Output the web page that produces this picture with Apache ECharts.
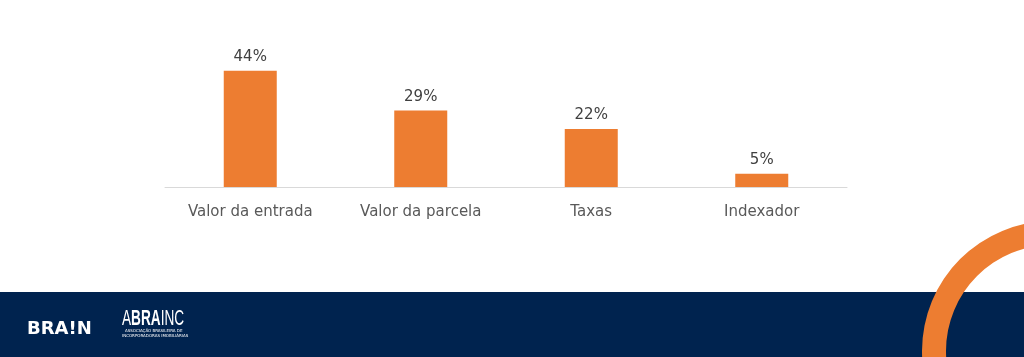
<!DOCTYPE html>
<html><head><meta charset="utf-8">
<script src="https://cdn.jsdelivr.net/npm/echarts@6/dist/echarts.min.js"></script>
<style>html,body{margin:0;padding:0;background:#fff}#c{width:1024px;height:357px}</style>
</head><body><div id="c"></div>
<script>
var categories = ['Valor da entrada', 'Valor da parcela', 'Taxas', 'Indexador'];
var values = [44, 29, 22, 5];

var chart = echarts.init(document.getElementById('c'));
chart.setOption({
  animation: false,
  backgroundColor: '#ffffff',
  grid: { left: 165, right: 177, top: 55, bottom: 170 },
  xAxis: {
    type: 'category',
    data: categories,
    axisLine: { lineStyle: { color: '#D9D9D9', width: 1 } },
    axisTick: { show: false },
    axisLabel: { color: '#595959', fontSize: 15, fontFamily: 'DejaVu Sans', margin: 18 }
  },
  yAxis: { type: 'value', min: 0, max: 50, show: false, splitLine: { show: false } },
  series: [{
    type: 'bar',
    data: values,
    barWidth: 53,
    itemStyle: { color: '#ED7D31' },
    label: {
      show: true, position: 'top', distance: 6,
      formatter: '{c}%', color: '#404040', fontSize: 15, fontFamily: 'DejaVu Sans'
    }
  }],
  graphic: [
    { type: 'rect', shape: { x: 0, y: 292, width: 1024, height: 65 }, style: { fill: '#00234F' }, z: 1 },
    { type: 'ring', shape: { cx: 1052, cy: 351, r: 130, r0: 106 }, style: { fill: '#ED7D31' }, z: 2 },
    { type: 'text', x: 27, y: 329, scaleX: 1.0, style: { text: 'BRA!N', fill: '#ffffff', font: 'bold 18px "DejaVu Sans"', verticalAlign: 'middle' }, z: 3 },
    { type: 'text', x: 122, y: 319, scaleX: 0.62, style: {
        text: '{a|A}{b|BRA}{a|INC}',
        verticalAlign: 'middle',
        rich: {
          a: { fill: '#ffffff', fontSize: 22, fontFamily: 'Liberation Sans', fontWeight: 'normal' },
          b: { fill: '#ffffff', fontSize: 22, fontFamily: 'Liberation Sans', fontWeight: 'bold' }
        }
      }, z: 3 },
    { type: 'text', x: 125, y: 331, style: { text: 'ASSOCIAÇÃO BRASILEIRA DE', fill: '#ffffff', font: '4px "DejaVu Sans"', verticalAlign: 'middle' }, z: 3 },
    { type: 'text', x: 122, y: 336, style: { text: 'INCORPORADORAS IMOBILIÁRIAS', fill: '#ffffff', font: '4px "DejaVu Sans"', verticalAlign: 'middle' }, z: 3 }
  ]
});
</script></body></html>
